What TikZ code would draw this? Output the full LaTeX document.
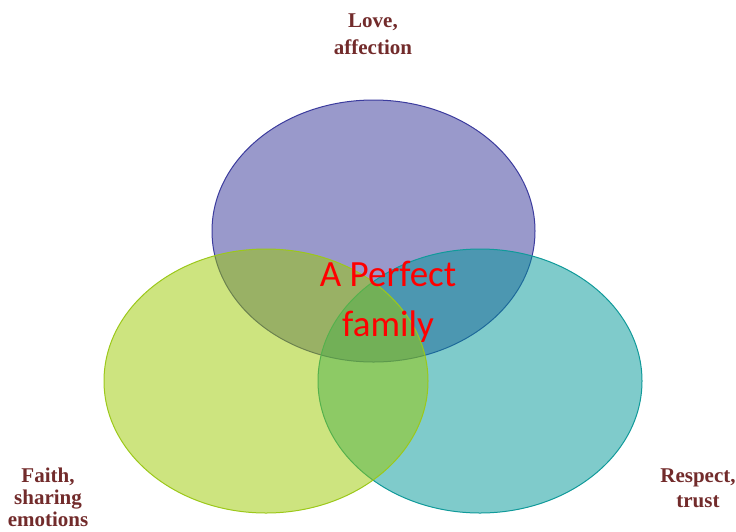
\documentclass[tikz,border=0pt]{standalone}
\usepackage{fontspec}
\setmainfont{Liberation Serif}
\newfontfamily\calib{Carlito}
\definecolor{lblcol}{HTML}{722B2B}
\definecolor{pfill}{HTML}{333397}
\definecolor{pline}{HTML}{3C3C9E}
\definecolor{gfill}{HTML}{9BC900}
\definecolor{gline}{HTML}{9CC81A}
\definecolor{tfill}{HTML}{009797}
\definecolor{tline}{HTML}{109A9A}
\begin{document}
\begin{tikzpicture}[x=1pt,y=-1pt,
  circ/.style={line width=1pt, fill opacity=0.5},
  lbl/.style={font=\fontsize{21}{27}\selectfont\bfseries, text=lblcol, align=center, inner sep=0pt, anchor=base},
  ctr/.style={font=\calib\fontsize{37}{50}\selectfont, text=red, align=center, inner sep=0pt, anchor=base}]
\useasboundingbox (0,0) rectangle (736,531);
\draw[circ, draw=pline, fill=pfill] (373.5,231) ellipse [x radius=161.5, y radius=131];
\draw[circ, draw=tline, fill=tfill] (480,381) ellipse [x radius=162, y radius=132];
\draw[circ, draw=gline, fill=gfill] (266,381) ellipse [x radius=162, y radius=132];
\node[lbl] (love) at (373,54) {Love,\\affection};
\node[lbl, font=\fontsize{21}{22}\selectfont\bfseries] (faith) at (48,526) {Faith,\\sharing\\emotions};
\node[lbl, font=\fontsize{21}{25}\selectfont\bfseries] (resp) at (698,507) {Respect,\\trust};
\node[ctr] (fam) at (388,336) {A Perfect\\family};
\end{tikzpicture}
\end{document}
